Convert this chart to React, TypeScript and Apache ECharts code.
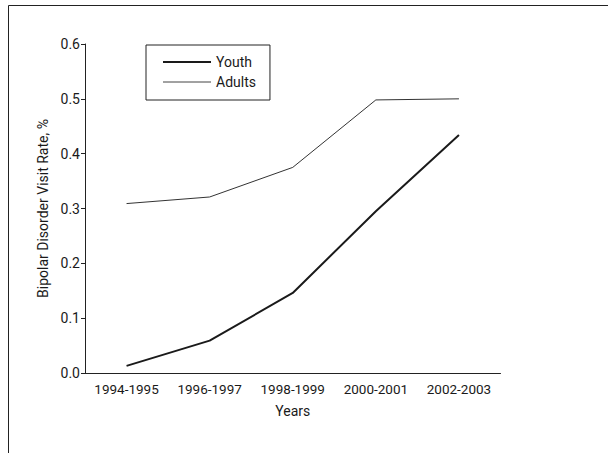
import React, { useEffect, useRef } from "react";
import * as echarts from "echarts";

const categories = ["1994-1995", "1996-1997", "1998-1999", "2000-2001", "2002-2003"];
const youth = [0.013, 0.059, 0.146, 0.295, 0.434];
const adults = [0.309, 0.321, 0.375, 0.498, 0.5];
const yTicks = [0, 0.1, 0.2, 0.3, 0.4, 0.5, 0.6];

const FONT = 'Roboto, "Liberation Sans", sans-serif';

export default function App() {
  const ref = useRef<HTMLDivElement>(null);
  useEffect(() => {
    if (!ref.current) return;
    const chart = echarts.init(ref.current, undefined, { renderer: "svg" });
    chart.setOption({
      animation: false,
      backgroundColor: "#ffffff",
      textStyle: { fontFamily: FONT, color: "#1a1a1a" },
      graphic: [
        {
          type: "rect",
          shape: { x: 8.5, y: 5.5, width: 700, height: 600 },
          style: { fill: "none", stroke: "#222", lineWidth: 1 },
          silent: true,
        },
      ],
      grid: { left: 85, right: 107.5, top: 44, bottom: 80 },
      legend: {
        orient: "vertical",
        left: 146,
        top: 45,
        padding: [10, 14, 11, 16],
        itemWidth: 48,
        itemHeight: 14,
        itemGap: 6,
        borderColor: "#222",
        borderWidth: 1,
        itemStyle: { opacity: 0 },
        textStyle: { fontFamily: FONT, fontSize: 14, color: "#1a1a1a" },
        data: [
          { name: "Youth", lineStyle: { width: 2, color: "#1a1a1a" } },
          { name: "Adults", lineStyle: { width: 1, color: "#444" } },
        ],
      },
      xAxis: {
        type: "category",
        data: categories,
        boundaryGap: true,
        name: "Years",
        nameLocation: "middle",
        nameGap: 31,
        nameTextStyle: { fontFamily: FONT, fontSize: 14, color: "#1a1a1a" },
        axisLine: { lineStyle: { color: "#222", width: 1 } },
        axisTick: { alignWithLabel: true, length: 5, lineStyle: { color: "#222" } },
        axisLabel: { interval: 0, fontFamily: FONT, fontSize: 13.5, color: "#1a1a1a", margin: 9 },
        splitLine: { show: false },
      },
      yAxis: {
        type: "value",
        min: 0,
        max: 0.6,
        interval: 0.1,
        name: "Bipolar Disorder Visit Rate, %",
        nameLocation: "middle",
        nameGap: 32,
        nameTextStyle: { fontFamily: FONT, fontSize: 14, color: "#1a1a1a" },
        axisLine: { show: true, lineStyle: { color: "#222", width: 1 } },
        axisTick: { show: true, length: 4, lineStyle: { color: "#222" } },
        axisLabel: {
          fontFamily: FONT,
          fontSize: 14,
          color: "#1a1a1a",
          margin: 5,
          formatter: (v: number) => {
            const t = yTicks.find((x) => Math.abs(x - v) < 1e-9);
            return (t !== undefined ? t : v).toFixed(1);
          },
        },
        splitLine: { show: false },
      },
      series: [
        {
          name: "Youth",
          type: "line",
          data: youth,
          symbol: "none",
          lineStyle: { color: "#1a1a1a", width: 2 },
          itemStyle: { color: "#1a1a1a" },
        },
        {
          name: "Adults",
          type: "line",
          data: adults,
          symbol: "none",
          lineStyle: { color: "#333", width: 1 },
          itemStyle: { color: "#333" },
        },
      ],
    });
    return () => chart.dispose();
  }, []);
  return (
    <div
      ref={ref}
      style={{ position: "absolute", left: 0, top: 0, width: 608, height: 453 }}
    />
  );
}
